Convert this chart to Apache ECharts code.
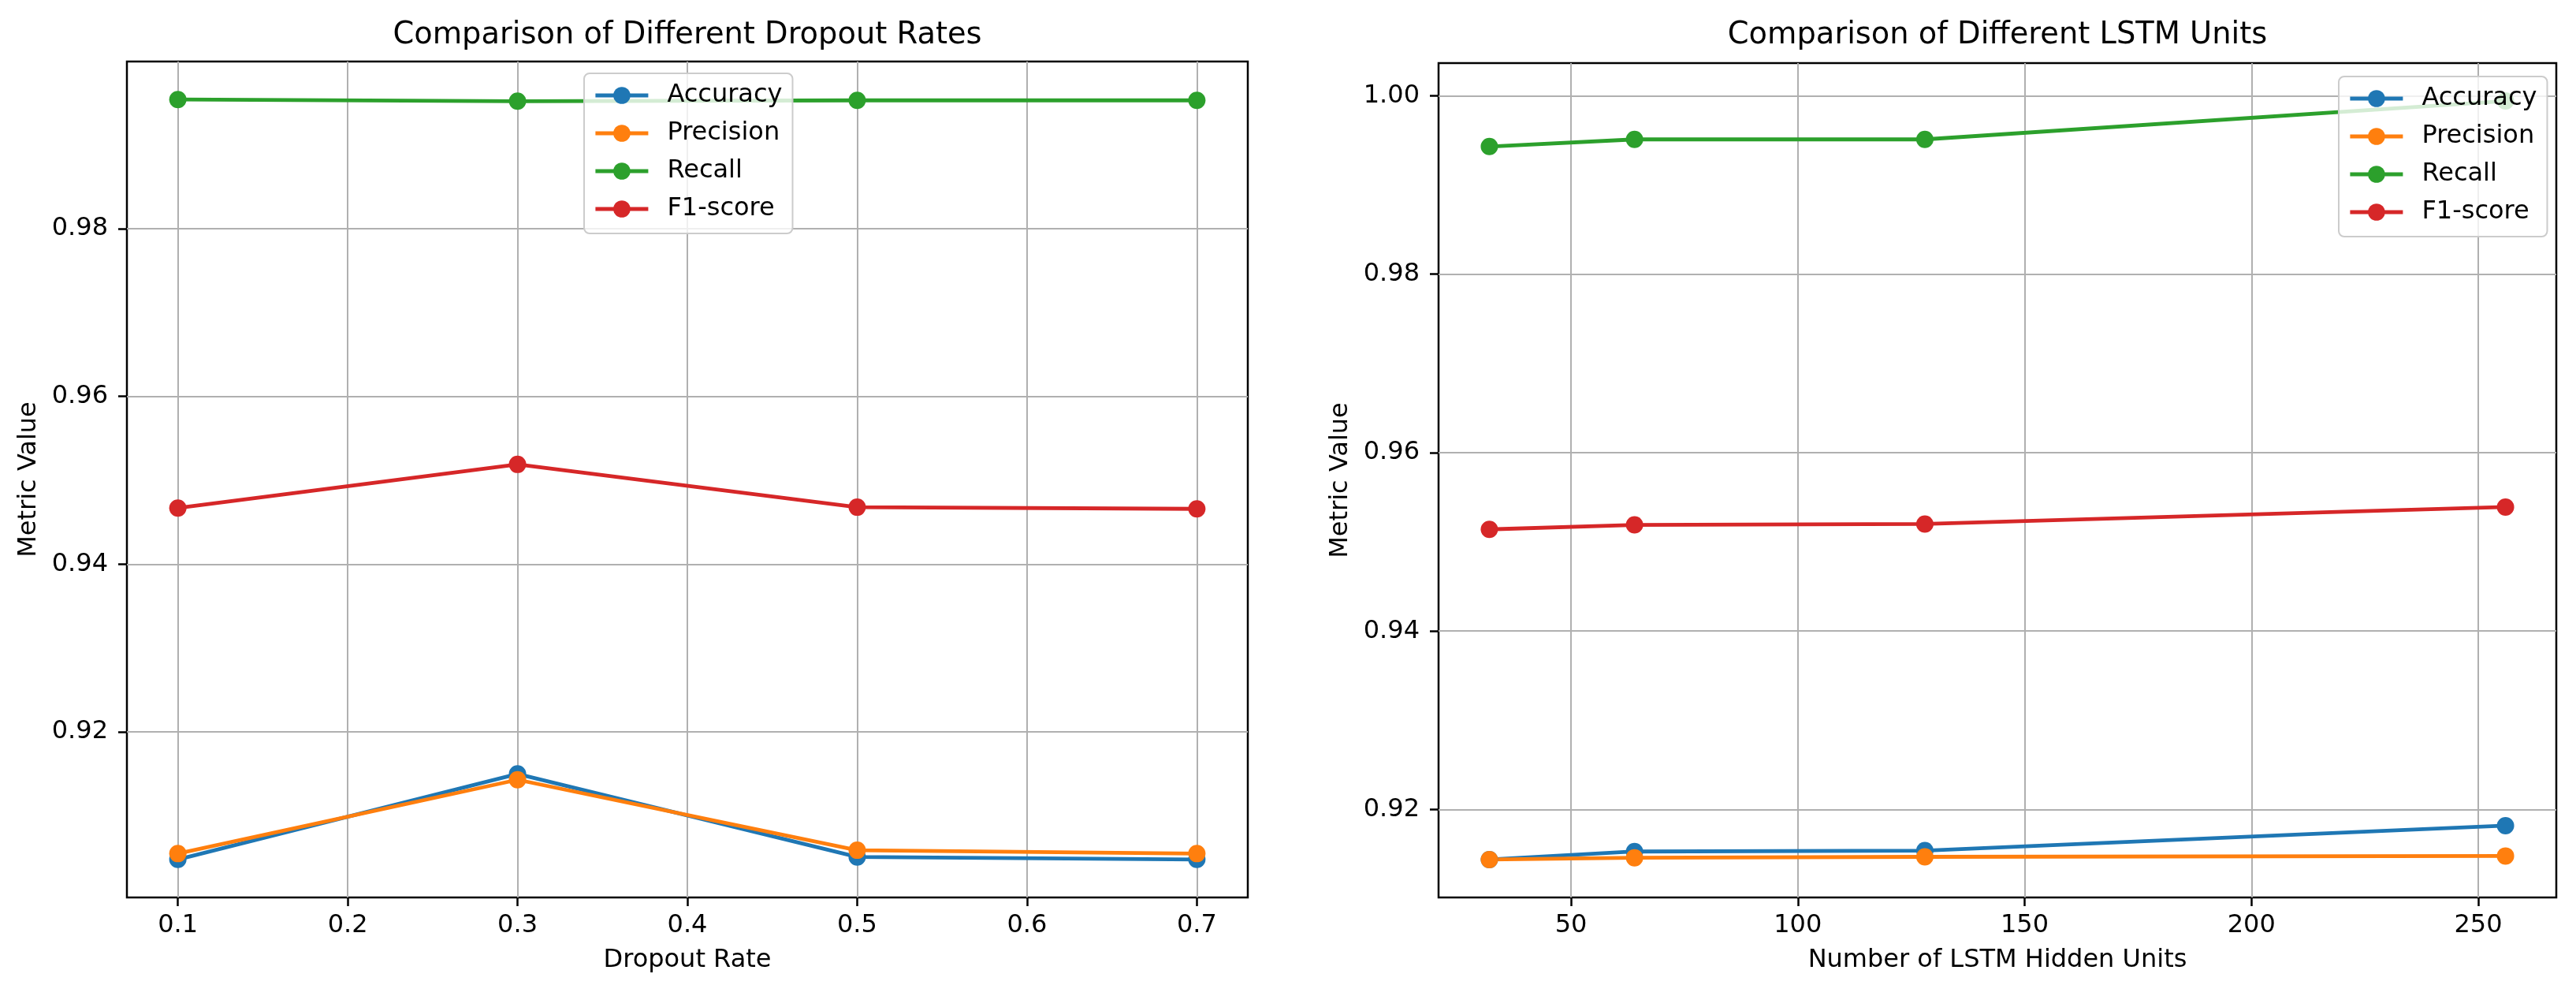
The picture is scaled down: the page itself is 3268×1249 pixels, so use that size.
<!DOCTYPE html>
<html>
<head>
<meta charset="utf-8">
<script src="https://cdn.jsdelivr.net/npm/echarts@6/dist/echarts.min.js"></script>
<style>
  html, body { margin: 0; padding: 0; background: #fff; }
  #chart { width: 3268px; height: 1249px; }
</style>
</head>
<body>
<div id="chart"></div>
<script>
// ---- Data ----
const metricNames = ['Accuracy', 'Precision', 'Recall', 'F1-score'];
const colors = ['#1f77b4', '#ff7f0e', '#2ca02c', '#d62728'];

// Left: dropout rates
const dropoutRates = [0.1, 0.3, 0.5, 0.7];
const dropoutAccuracy  = [0.9048, 0.9150, 0.9051, 0.9048];
const dropoutPrecision = [0.9055, 0.9143, 0.9059, 0.9055];
const dropoutRecall    = [0.9954, 0.9952, 0.9953, 0.9953];
const dropoutF1        = [0.9467, 0.9519, 0.9468, 0.9466];

// Right: LSTM units
const lstmUnits = [32, 64, 128, 256];
const lstmAccuracy  = [0.9144, 0.9153, 0.9154, 0.9182];
const lstmPrecision = [0.9144, 0.9146, 0.9147, 0.9148];
const lstmRecall    = [0.9943, 0.9951, 0.9951, 0.9994];
const lstmF1        = [0.9514, 0.9519, 0.9520, 0.9539];

// Tick labels
const dropoutXTicks = [0.1, 0.2, 0.3, 0.4, 0.5, 0.6, 0.7];
const dropoutYTicks = [0.92, 0.94, 0.96, 0.98];
const lstmXTicks = [50, 100, 150, 200, 250];
const lstmYTicks = [0.92, 0.94, 0.96, 0.98, 1.00];

// ---- Helpers ----
const FONT = 'DejaVu Sans';
function padExtent(arrays) {
  const all = [].concat(...arrays);
  const lo = Math.min(...all), hi = Math.max(...all);
  const m = (hi - lo) * 0.05;
  return [lo - m, hi + m];
}
function pairs(xs, ys) { return xs.map((x, i) => [x, ys[i]]); }

const leftX = padExtent([dropoutRates]);
const leftY = padExtent([dropoutAccuracy, dropoutPrecision, dropoutRecall, dropoutF1]);
const rightX = padExtent([lstmUnits]);
const rightY = padExtent([lstmAccuracy, lstmPrecision, lstmRecall, lstmF1]);

function makeAxis(ext, ticks, fmt, name, gap, isX) {
  return {
    type: 'value',
    min: ext[0], max: ext[1],
    name: name, nameLocation: 'middle', nameGap: gap,
    nameTextStyle: { fontFamily: FONT, fontSize: 32, color: '#000', verticalAlign: 'middle' },
    axisLine: { show: false, onZero: false },
    axisTick: { show: true, length: 11, customValues: ticks, lineStyle: { color: '#000', width: 2.5 } },
    axisLabel: {
      customValues: ticks, margin: isX ? 20 : 24,
      fontFamily: FONT, fontSize: 32, color: '#000',
      formatter: fmt
    },
    splitLine: { show: true, lineStyle: { color: '#b0b0b0', width: 2 } },
    minorTick: { show: false }
  };
}

function makeSeries(xs, ysList, idx) {
  return ysList.map((ys, i) => ({
    name: metricNames[i], type: 'line',
    xAxisIndex: idx, yAxisIndex: idx,
    data: pairs(xs, ys),
    symbol: 'circle', symbolSize: 22, showSymbol: true,
    lineStyle: { width: 4.8, color: colors[i] },
    itemStyle: { color: colors[i] },
    emphasis: { disabled: true },
    animation: false
  }));
}

function makeLegend(left, top) {
  return {
    data: metricNames, orient: 'vertical', left: left, top: top,
    itemWidth: 67, itemHeight: 27, itemGap: 16,
    padding: [12, 13, 15, 12],
    backgroundColor: 'rgba(255,255,255,0.8)',
    borderColor: '#cccccc', borderWidth: 2, borderRadius: 7,
    lineStyle: { width: 4.8 },
    textStyle: { fontFamily: FONT, fontSize: 32, color: '#000', padding: [0, 0, 0, 19] },
    selectedMode: false
  };
}

const chart = echarts.init(document.getElementById('chart'), null, { renderer: 'canvas', devicePixelRatio: 1 });
chart.setOption({
  backgroundColor: '#fff',
  animation: false,
  color: colors,
  textStyle: { fontFamily: FONT },
  grid: [
    { left: 161, top: 78, width: 1422, height: 1060, show: true, borderColor: '#000', borderWidth: 2.5, backgroundColor: 'transparent' },
    { left: 1825, top: 80, width: 1418, height: 1058, show: true, borderColor: '#000', borderWidth: 2.5, backgroundColor: 'transparent' }
  ],
  xAxis: [
    Object.assign(makeAxis(leftX, dropoutXTicks, v => v.toFixed(1), 'Dropout Rate', 80, true), { gridIndex: 0 }),
    Object.assign(makeAxis(rightX, lstmXTicks, v => String(Math.round(v)), 'Number of LSTM Hidden Units', 80, true), { gridIndex: 1 })
  ],
  yAxis: [
    Object.assign(makeAxis(leftY, dropoutYTicks, v => v.toFixed(2), 'Metric Value', 124, false), { gridIndex: 0 }),
    Object.assign(makeAxis(rightY, lstmYTicks, v => v.toFixed(2), 'Metric Value', 124, false), { gridIndex: 1 })
  ],
  legend: [ makeLegend(741, 93), makeLegend(2967, 97) ],
  graphic: [
    { type: 'text', x: 872, y: 45.5, style: { text: 'Comparison of Different Dropout Rates', font: '38.4px "DejaVu Sans"', fill: '#000', textAlign: 'center', textVerticalAlign: 'middle', align: 'center', verticalAlign: 'middle' } },
    { type: 'text', x: 2534, y: 45.5, style: { text: 'Comparison of Different LSTM Units', font: '38.4px "DejaVu Sans"', fill: '#000', textAlign: 'center', textVerticalAlign: 'middle', align: 'center', verticalAlign: 'middle' } }
  ],
  series: [].concat(
    makeSeries(dropoutRates, [dropoutAccuracy, dropoutPrecision, dropoutRecall, dropoutF1], 0),
    makeSeries(lstmUnits, [lstmAccuracy, lstmPrecision, lstmRecall, lstmF1], 1)
  )
});
</script>
</body>
</html>
